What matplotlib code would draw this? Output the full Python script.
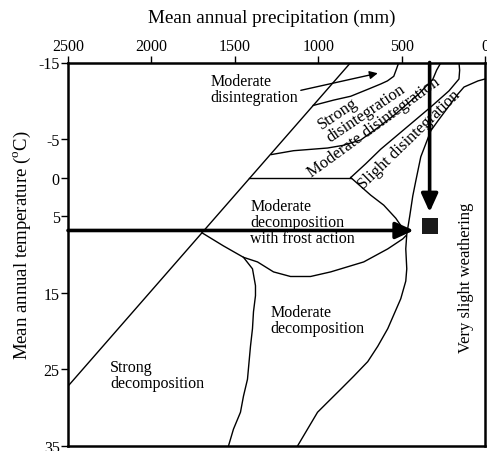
import matplotlib.pyplot as plt

plt.rcParams['font.family'] = ['Liberation Serif', 'DejaVu Serif']
plt.rcParams['mathtext.fontset'] = 'custom'
plt.rcParams['mathtext.rm'] = 'Liberation Serif'
plt.rcParams['axes.unicode_minus'] = False

# precipitation (mm) / temperature (C) pairs
diag_p = [2500, 805]
diag_t = [27.2, -15]

zero_p = [1415, 805]
zero_t = [0, 0]

# upper edge of strong disintegration
c1_p = [517, 530, 547, 585, 625, 703, 805, 907, 1030]
c1_t = [-15, -14.2, -13.2, -12.6, -12.2, -11.5, -10.6, -10.1, -9.4]

# strong / moderate disintegration
c2_p = [264, 290, 312, 397, 535, 655, 745, 850, 944, 1148, 1280]
c2_t = [-15, -14.0, -12.85, -10.9, -8.3, -6.3, -4.9, -4.2, -3.85, -3.5, -3.0]

# moderate / slight disintegration
c3_p = [156, 152, 156, 216, 325, 445, 625, 715, 805]
c3_t = [-15, -14.0, -12.85, -11.3, -9.2, -7.0, -3.7, -1.8, 0]

# slight disintegration / very slight weathering, then down to the bottom
c4_p = [0, 42, 126, 162, 282, 325, 385, 415, 433, 451, 469, 475, 469, 475,
        505, 583, 643, 703, 787, 865, 944, 1004, 1064, 1124]
c4_t = [-12.85, -12.6, -11.8, -10.9, -7.4, -6.1, -2.7, 0.45, 2.4, 5.0, 7.4,
        9.3, 11.9, 13.5, 15.8, 19.7, 22.0, 24.0, 25.9, 27.6, 29.3, 30.6,
        32.8, 35]

# frost action: upper right edge
f1_p = [805, 685, 607, 535, 481]
f1_t = [0, 2.3, 3.6, 5.3, 7.0]

# frost action: lower edge
f2_p = [1697, 1569, 1448, 1364, 1268, 1166, 1046, 925, 727, 583, 493, 475]
f2_t = [7.2, 8.9, 10.4, 11.0, 12.3, 12.9, 12.9, 12.3, 11.0, 9.3, 8.0, 7.6]

# strong / moderate decomposition
c5_p = [1448, 1394, 1376, 1376, 1388, 1394, 1406, 1424, 1448, 1466, 1508, 1538]
c5_t = [10.4, 11.9, 14.1, 15.4, 17.5, 19.7, 22.0, 26.3, 28.5, 30.6, 32.8, 35]

site_p = 330
site_t = 6.3
site_arrow_t = 6.9

fig = plt.figure(figsize=(4.87, 4.52), dpi=100)
ax = fig.add_axes([68 / 487, 1 - 447 / 452, (485 - 68) / 487, (447 - 63.5) / 452])
ax.set_xlim(2500, 0)
ax.set_ylim(35, -15)

for p, t in [(diag_p, diag_t), (zero_p, zero_t), (c1_p, c1_t), (c2_p, c2_t),
             (c3_p, c3_t), (c4_p, c4_t), (f1_p, f1_t), (f2_p, f2_t), (c5_p, c5_t)]:
    ax.plot(p, t, color='black', lw=1.0, solid_joinstyle='round')

# big arrows and the site marker
big = dict(arrowstyle='-|>,head_length=0.55,head_width=0.25', color='black',
           lw=2.6, mutation_scale=20, shrinkA=0, shrinkB=0)
ax.annotate('', xy=(427, site_arrow_t), xytext=(2500, site_arrow_t), arrowprops=big)
ax.annotate('', xy=(site_p + 2, 4.5), xytext=(site_p + 2, -15), arrowprops=big)
ax.plot(site_p, site_t, marker='s', ms=11.5, color='#1a1a1a', mew=0)

# labels
ax.annotate('Moderate\ndisintegration', xy=(643, -13.6), xytext=(1647, -11.5),
            fontsize=11.5, ha='left', va='center', linespacing=1.0,
            arrowprops=dict(arrowstyle='-|>', color='black', lw=1.0,
                            mutation_scale=12, shrinkA=0, shrinkB=0,
                            relpos=(1.0, 0.45)))
ax.text(739, -9.26, 'Strong\ndisintegration', rotation=34, fontsize=12,
        ha='center', va='center', rotation_mode='anchor', multialignment='left',
        linespacing=1.0)
ax.text(667, -6.6, 'Moderate disintegration', rotation=36, fontsize=12,
        ha='center', va='center', rotation_mode='anchor')
ax.text(457, -5.0, 'Slight disintegration', rotation=44, fontsize=12,
        ha='center', va='center', rotation_mode='anchor')
ax.text(1406, 5.8, 'Moderate\ndecomposition\nwith frost action', fontsize=11.5,
        ha='left', va='center', linespacing=1.0)
ax.text(1286, 18.6, 'Moderate\ndecomposition', fontsize=11.5,
        ha='left', va='center', linespacing=1.0)
ax.text(2248, 25.7, 'Strong\ndecomposition', fontsize=11.5,
        ha='left', va='center', linespacing=1.0)
ax.text(114, 13.0, 'Very slight weathering', rotation=90, fontsize=12,
        ha='center', va='center')

ax.xaxis.tick_top()
ax.set_xticks([2500, 2000, 1500, 1000, 500, 0])
ax.set_yticks([-15, -5, 0, 5, 15, 25, 35])
ax.tick_params(bottom=False, right=False, direction='out', length=5, width=1,
               labelsize=11.5, pad=1)
for s in ax.spines.values():
    s.set_linewidth(1.8)

fig.text(272 / 487, 1 - 18 / 452, 'Mean annual precipitation (mm)',
         fontsize=13.8, ha='center', va='center')
fig.text(22 / 487, 1 - 245 / 452, r'Mean annual temperature ($^{\rm o}$C)',
         fontsize=13.5, ha='center', va='center', rotation=90)

fig.savefig('out.png', dpi=100)
